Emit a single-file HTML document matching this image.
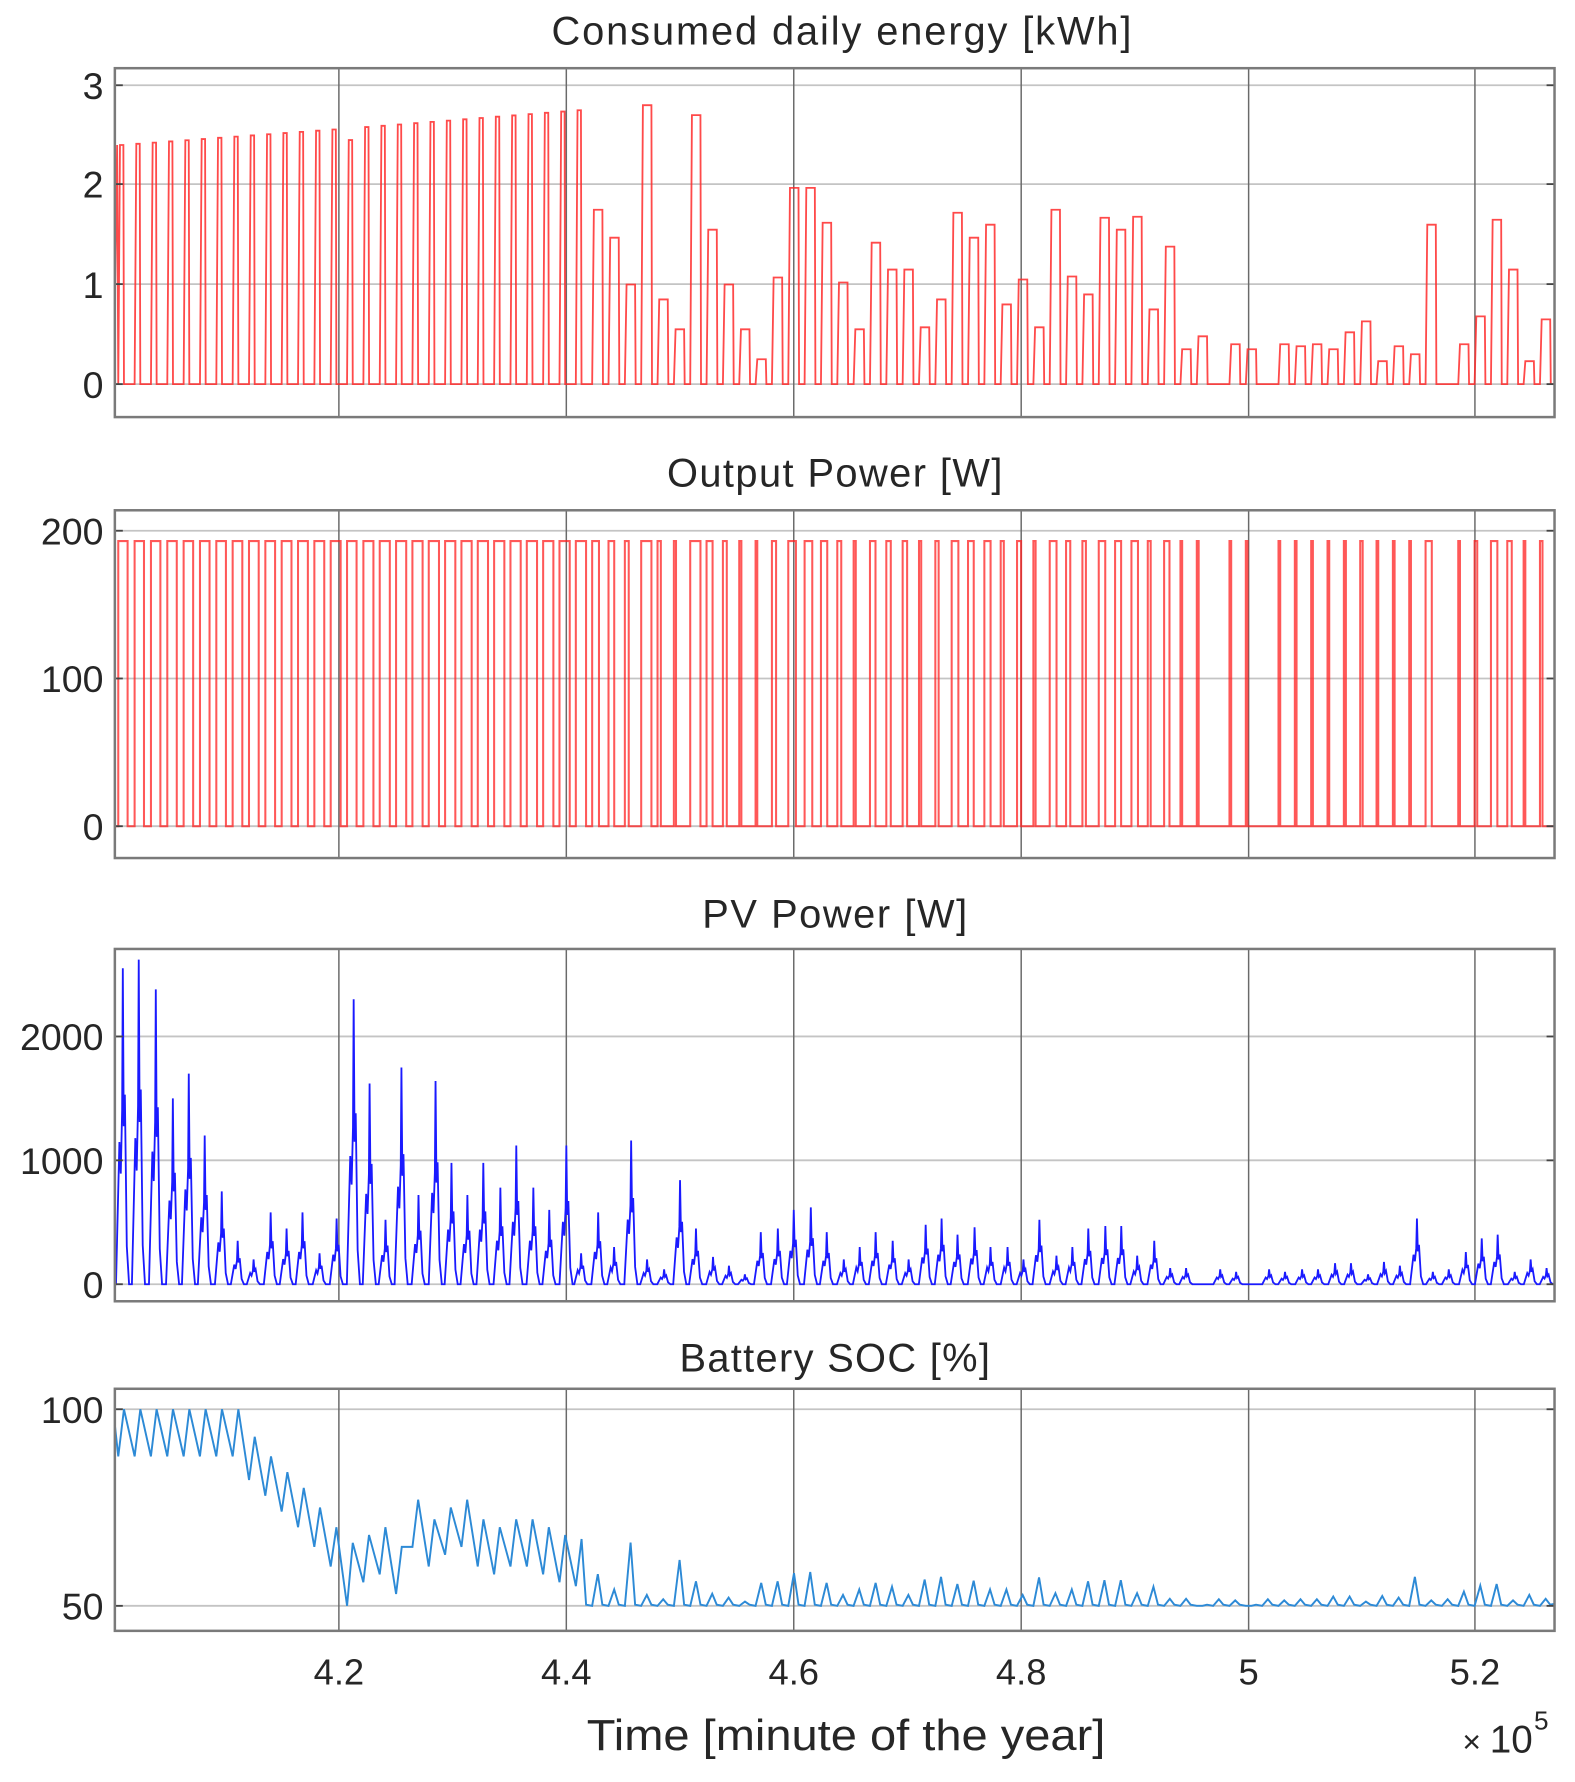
<!DOCTYPE html>
<html><head><meta charset="utf-8"><style>
html,body{margin:0;padding:0;background:#fff;}
svg{display:block;}
text{font-family:"Liberation Sans",Arial,sans-serif;fill:#262626;}
</style></head><body>
<svg id="s" width="1575" height="1782" viewBox="0 0 1385 1568" preserveAspectRatio="none" xmlns="http://www.w3.org/2000/svg">
<rect width="1385" height="1568" fill="#fff"/>
<g id="grid"></g>
<g id="data"></g>
<g id="frames"></g>
<g font-size="35" fill="#1a1a1a" text-anchor="middle" lengthAdjust="spacingAndGlyphs">
<text x="740" y="39" textLength="510">Consumed daily energy [kWh]</text>
<text x="734" y="428" textLength="295">Output Power [W]</text>
<text x="734" y="816" textLength="233">PV Power [W]</text>
<text x="734" y="1207" textLength="273">Battery SOC [%]</text>
</g>
<g font-size="33" text-anchor="end">
<text x="91" y="87">3</text><text x="91" y="174">2</text><text x="91" y="262">1</text><text x="91" y="350">0</text>
<text x="91" y="479">200</text><text x="91" y="609">100</text><text x="91" y="739">0</text>
<text x="91" y="924">2000</text><text x="91" y="1033">1000</text><text x="91" y="1142">0</text>
<text x="91" y="1252">100</text><text x="91" y="1425">50</text>
</g>
<g font-size="32" text-anchor="middle">
<text x="298" y="1482">4.2</text><text x="498" y="1482">4.4</text><text x="698" y="1482">4.6</text>
<text x="898" y="1482">4.8</text><text x="1098" y="1482">5</text><text x="1297" y="1482">5.2</text>
</g>
<text x="744" y="1540" font-size="38" fill="#1a1a1a" text-anchor="middle" textLength="456" lengthAdjust="spacingAndGlyphs">Time [minute of the year]</text>
<text x="1286" y="1542" font-size="28" fill="#666">×</text>
<text x="1310" y="1542" font-size="34">10</text>
<text x="1349" y="1522" font-size="23">5</text>
</svg>
<script>
(function(){
var NS="http://www.w3.org/2000/svg";
function el(p,t,a){var e=document.createElementNS(NS,t);for(var k in a)e.setAttribute(k,a[k]);p.appendChild(e);return e;}
var G=document.getElementById('grid'),D=document.getElementById('data'),F=document.getElementById('frames');
var L=101,R=1367,xt=[298,498,698,898,1098,1297];
var P=[
 {t:60,b:367,yt:[75,162,250,338],v0:338,v1:75,a:0,c:3},
 {t:449,b:755,yt:[467,597,727],v0:727,v1:467,a:0,c:200},
 {t:835,b:1145,yt:[912,1021,1130],v0:1130,v1:912,a:0,c:2000},
 {t:1222,b:1435,yt:[1240,1413],v0:1413,v1:1240,a:50,c:100}];
P.forEach(function(p){
 p.yt.forEach(function(y){el(G,'line',{x1:L,x2:R,y1:y,y2:y,stroke:'#c4c4c4','stroke-width':1.6});
   el(F,'line',{x1:L,x2:L+7,y1:y,y2:y,stroke:'#444','stroke-width':1.6});
   el(F,'line',{x1:R-7,x2:R,y1:y,y2:y,stroke:'#444','stroke-width':1.6});});
 xt.forEach(function(x){el(G,'line',{x1:x,x2:x,y1:p.t,y2:p.b,stroke:'#6a6a6a','stroke-width':1.3});});
 el(F,'rect',{x:L,y:p.t,width:R-L,height:p.b-p.t,fill:'none',stroke:'#7a7a7a','stroke-width':2.2});
 p.Y=function(v){return p.v0+(v-p.a)*(p.v1-p.v0)/(p.c-p.a);};
});
var N=89,S=14.37;
var E=[];
for(var k=0;k<14;k++)E.push(2.4+k*0.012);
E.push(2.45);
for(k=15;k<29;k++)E.push(2.58+(k-15)*0.013);
E=E.concat([1.75,1.47,1.0,2.8,0.85,0.55,2.7,1.55,1.0,0.55,0.25,1.07,1.97,1.97,1.62,1.02,0.55,1.42,1.15,1.15,0.57,0.85,1.72,1.47,1.6,0.8,1.05,0.57,1.75,1.08,0.9,1.67,1.55,1.68,0.75,1.38,0.35,0.48,0,0.4,0.35,0,0.4,0.38,0.4,0.35,0.52,0.63,0.23,0.38,0.3,1.6,0,0.4,0.68,1.65,1.15,0.23,0.65,0.3]);
var p=P[0],d='M'+L+' '+p.Y(0.8)+' L'+(L+2)+' '+p.Y(2.4);
for(k=0;k<N;k++){var s=104+S*k,e=E[k];if(s>R)break;
 if(e<=0){d+=' L'+s+' '+p.Y(0);continue;}
 var tw=k<29?4.5:9;
 d+=' L'+s+' '+p.Y(0)+' L'+(s+1.5)+' '+p.Y(e)+' L'+Math.min(R,s+tw)+' '+p.Y(e)+' L'+Math.min(R,s+tw+0.5)+' '+p.Y(0);}
d+=' L'+R+' '+p.Y(0);
el(D,'path',{d:d,fill:'none',stroke:'#ff2a2a','stroke-width':1.6,'stroke-opacity':0.85});
p=P[1];d='M'+L+' '+p.Y(0);
for(k=0;k<N;k++){var s=104+S*k,e=E[k];if(s>R)break;if(e<=0)continue;
 var w=Math.max(1.5,Math.min(9,e/0.193/24*14.4*1.1));
 d+=' L'+s+' '+p.Y(0)+' L'+s+' '+p.Y(193)+' L'+Math.min(R,s+w)+' '+p.Y(193)+' L'+Math.min(R,s+w)+' '+p.Y(0);}
d+=' L'+R+' '+p.Y(0);
el(D,'path',{d:d,fill:'none',stroke:'#ff2020','stroke-width':1.8,'stroke-opacity':0.75});
var pvp=[108,2550,122,2620,137,2380,152,1500,166,1700,180,1200,195,750,209,350,223,200,238,580,252,450,266,580,281,250,296,530,311,2300,325,1620,339,520,353,1750,368,720,383,1640,397,980,411,720,425,980,440,780,454,1120,469,780,483,600,498,1120,511,250,526,580,540,300,555,1160,569,200,584,120,598,840,612,450,627,220,641,150,655,80,669,420,684,450,698,600,713,620,727,420,742,200,756,300,770,420,785,350,799,200,814,480,828,530,842,400,857,460,871,300,886,300,900,200,914,520,929,230,943,300,957,450,972,470,986,470,1000,230,1015,350,1029,130,1043,130,1073,120,1087,100,1116,120,1130,100,1145,120,1159,120,1174,170,1188,170,1203,80,1217,180,1231,150,1246,530,1260,100,1274,120,1289,260,1303,370,1317,400,1332,100,1346,200,1360,130];
var PV=[];for(k=0;k<N;k++)PV.push(0);
p=P[2];d='M'+L+' '+p.Y(0);
for(var i=0;i<pvp.length;i+=2){var c=pvp[i],h=pvp[i+1];
 var kk=Math.round((c-108)/S);if(kk>=0&&kk<N)PV[kk]=h;
 var pts=[[c-6,0],[c-3,0.45*h],[c-1.8,0.35*h],[c-0.6,0.55*h],[c,h],[c+0.8,0.5*h],[c+1.8,0.6*h],[c+3.5,0.12*h],[c+5.5,0]];
 pts.forEach(function(q){d+=' L'+Math.min(R,q[0]).toFixed(1)+' '+p.Y(q[1]).toFixed(1);});}
d+=' L'+R+' '+p.Y(0);
el(D,'path',{d:d,fill:'none',stroke:'#1a1aff','stroke-width':1.6});
p=P[3];
var H=[],Lo=[];
for(k=0;k<8;k++){H.push(100);Lo.push(88);}
var dec=[[93,82],[88,78],[84,74],[80,70],[75,65],[70,60]];
dec.forEach(function(q){H.push(q[0]);Lo.push(q[1]);});
var mid=[66,68,70,65,77,72,75,77,72,70,72,72,70,68,67];
mid.forEach(function(h,j){H.push(h);Lo.push(j==0?50:Math.max(52,h-12));});
for(k=29;k<N;k++){H.push(50+Math.min(18,PV[k]/72));Lo.push(50);}
d='M'+L+' '+p.Y(96)+' L'+(L+3)+' '+p.Y(88);
for(k=0;k<N;k++){var c=108+S*k;if(c-4>R)break;
 d+=' L'+(c-4).toFixed(1)+' '+p.Y(Lo[k]).toFixed(1)+' L'+Math.min(R,c+1).toFixed(1)+' '+p.Y(H[k]).toFixed(1);
 if(k>=28){d+=' L'+Math.min(R,c+5).toFixed(1)+' '+p.Y(50.3).toFixed(1);}
}
d+=' L'+R+' '+p.Y(50.5);
el(D,'path',{d:d,fill:'none',stroke:'#2d8ad6','stroke-width':1.7});
})();
</script>
</body></html>
